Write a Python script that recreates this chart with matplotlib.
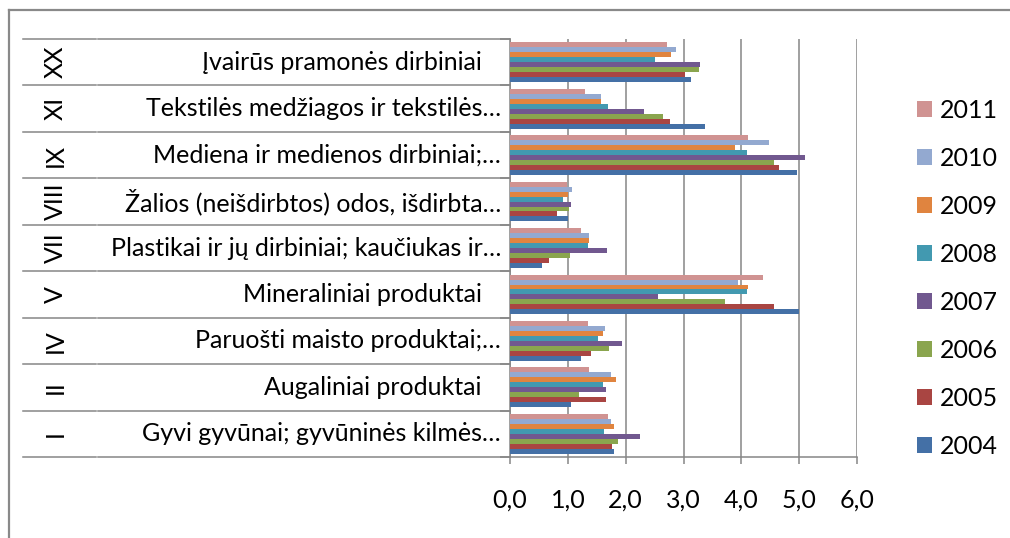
import matplotlib
matplotlib.use("Agg")
import matplotlib.pyplot as plt
from matplotlib.lines import Line2D
from matplotlib.patches import Patch
from matplotlib.ticker import FuncFormatter

plt.rcParams['font.family'] = ['Lato', 'DejaVu Sans']

# Categories from bottom to top
roman = ["I", "II", "IV", "V", "VII", "VIII", "IX", "XI", "XX"]
names = [
    "Gyvi gyvūnai; gyvūninės kilmės…",
    "Augaliniai produktai   ",
    "Paruošti maisto produktai;…",
    "Mineraliniai produktai   ",
    "Plastikai ir jų dirbiniai; kaučiukas ir…",
    "Žalios (neišdirbtos) odos, išdirbta…",
    "Mediena ir medienos dirbiniai;…",
    "Tekstilės medžiagos ir tekstilės…",
    "Įvairūs pramonės dirbiniai   ",
]
years = ["2004", "2005", "2006", "2007", "2008", "2009", "2010", "2011"]

v2004 = [1.79, 1.05, 1.22, 5.00, 0.55, 1.00, 4.96, 3.37, 3.13]
v2005 = [1.77, 1.66, 1.40, 4.56, 0.67, 0.82, 4.65, 2.77, 3.02]
v2006 = [1.86, 1.19, 1.72, 3.72, 1.04, 1.02, 4.56, 2.64, 3.26]
v2007 = [2.24, 1.66, 1.94, 2.56, 1.67, 1.06, 5.10, 2.32, 3.29]
v2008 = [1.62, 1.60, 1.53, 4.10, 1.35, 0.92, 4.09, 1.69, 2.51]
v2009 = [1.80, 1.84, 1.61, 4.11, 1.37, 1.00, 3.89, 1.58, 2.78]
v2010 = [1.74, 1.74, 1.64, 3.94, 1.37, 1.08, 4.47, 1.57, 2.87]
v2011 = [1.70, 1.36, 1.35, 4.37, 1.23, 0.99, 4.11, 1.30, 2.71]
series = [v2004, v2005, v2006, v2007, v2008, v2009, v2010, v2011]

colors = ["#4470A6", "#A94542", "#8AA54E", "#71588F",
          "#4299B0", "#E0843F", "#93A9D0", "#D09392"]
xticks = [0, 1, 2, 3, 4, 5, 6]

W, H = 1010, 538
FS = 18
fig = plt.figure(figsize=(W / 100, H / 100), dpi=100)
ax = fig.add_axes([510 / W, 1 - 457 / H, (857 - 510) / W, (457 - 39) / H])

GRAY = "#868686"
n = len(series)
bh = 0.107
ypos = list(range(len(roman)))
for i, (vals, c) in enumerate(zip(series, colors)):
    ax.barh([y + (i - (n - 1) / 2) * bh for y in ypos], vals, height=bh,
            color=c, edgecolor="none", zorder=3)

ax.set_xlim(0, 6)
ax.set_ylim(-0.5, len(roman) - 0.5)
ax.set_xticks(xticks)
ax.xaxis.set_major_formatter(FuncFormatter(lambda x, p: f"{x:.1f}".replace(".", ",")))
ax.set_yticks([k - 0.5 for k in range(len(roman) + 1)])
ax.set_yticklabels([])
ax.xaxis.grid(True, color=GRAY, lw=1.1, zorder=1)
for s in ["top", "right"]:
    ax.spines[s].set_visible(False)
for s in ["left", "bottom"]:
    ax.spines[s].set_color(GRAY)
    ax.spines[s].set_linewidth(1.1)
ax.tick_params(axis="y", direction="out", length=7.2, width=1.1, color=GRAY)
ax.tick_params(axis="x", direction="out", length=5, width=1.1, color=GRAY,
               labelsize=FS, pad=18, labelcolor="black")

ytr = ax.get_yaxis_transform()
axw = 857 - 510
for k in range(len(roman) + 1):
    y = k - 0.5
    ax.add_line(Line2D([(23 - 510) / axw, (96 - 510) / axw], [y, y], transform=ytr,
                       color=GRAY, lw=1.1, clip_on=False))
    ax.add_line(Line2D([(98 - 510) / axw, 0], [y, y], transform=ytr,
                       color=GRAY, lw=1.1, clip_on=False))

for y, r, nm in zip(ypos, roman, names):
    ax.text((55 - 510) / axw, y, r, transform=ytr, rotation=90, ha="center",
            va="center", fontsize=FS, clip_on=False)
    ax.text((501 - 510) / axw, y, nm, transform=ytr, ha="right",
            va="center", fontsize=FS, clip_on=False)

# outer chart border (left and top)
fig.add_artist(Line2D([9 / W, 9 / W], [0, 1 - 10 / H], color="#898989", lw=1.6))
fig.add_artist(Line2D([9 / W, 1], [1 - 10 / H, 1 - 10 / H], color="#898989", lw=1.6))

handles = [Patch(facecolor=c, edgecolor="none") for c in colors][::-1]
ax.legend(handles, years[::-1], loc="upper left",
          bbox_to_anchor=(917 / W, 1 - 99 / H), bbox_transform=fig.transFigure,
          frameon=False, fontsize=FS, borderpad=0, borderaxespad=0,
          handlelength=0.6, handleheight=0.6, handletextpad=0.3,
          labelspacing=1.0)

fig.savefig("out.png", dpi=100)
